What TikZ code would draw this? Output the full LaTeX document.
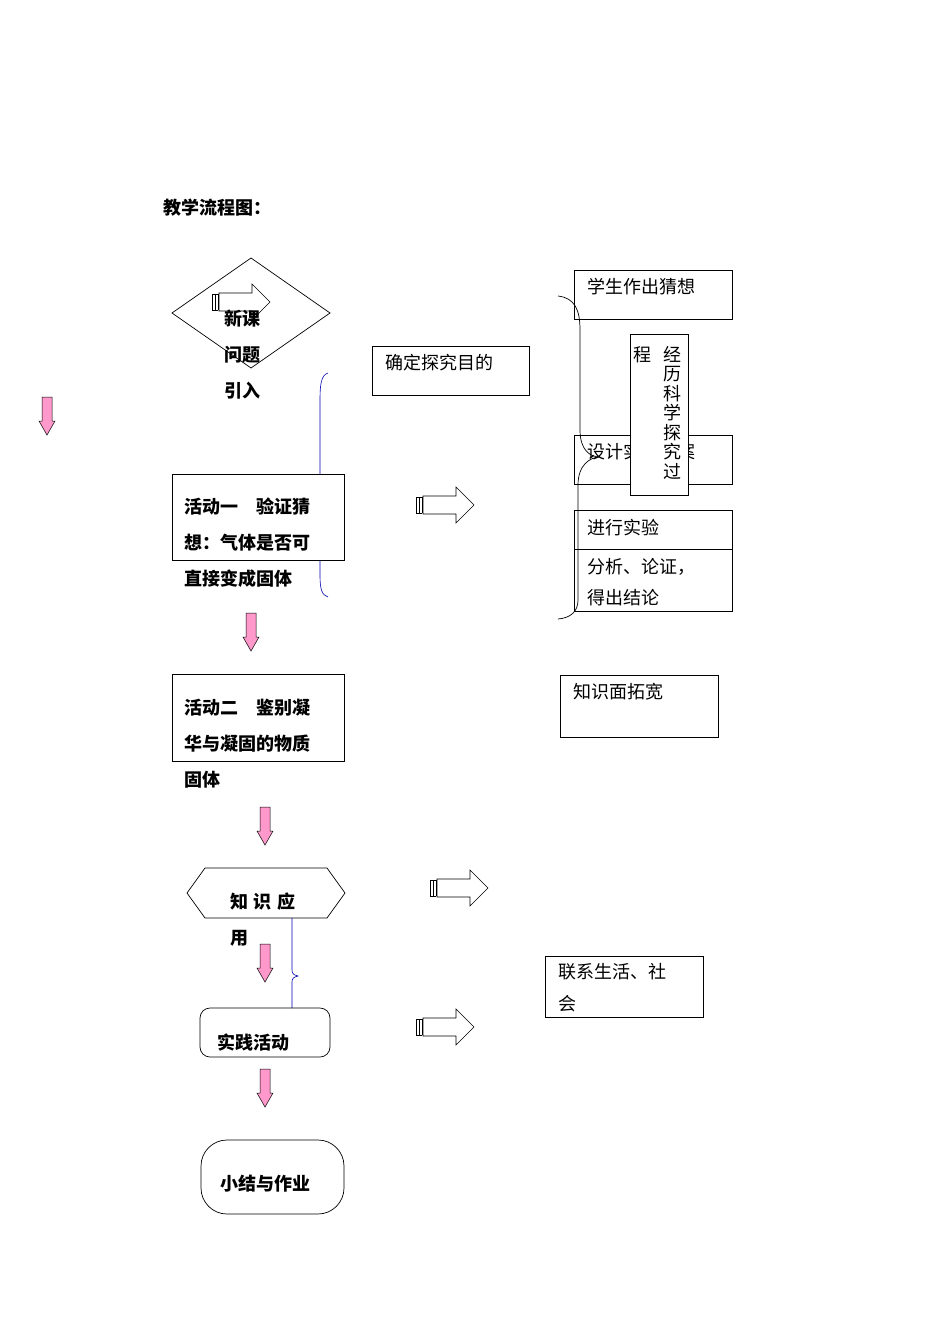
\documentclass[tikz,border=0pt]{standalone}
\usepackage{fontspec}
\setmainfont{Noto Sans CJK SC}
\begin{document}
\begin{tikzpicture}[x=1pt,y=-1pt,line width=0.7pt,
  txt/.style={anchor=base west,inner sep=0pt,font=\fontsize{18}{20}\selectfont},
  btxt/.style={txt,font=\fontsize{18}{20}\selectfont\bfseries},
  bx/.style={draw,fill=white}]
\definecolor{pk}{HTML}{FF99CC}
\useasboundingbox (0,0) rectangle (950,1344);
\newcommand\hollowarr[2]{%
  \draw[line width=0.6pt] (#1,#2-8) -- (#1,#2+8) (#1+3,#2-8) -- (#1+3,#2+8) (#1+6,#2-8) -- (#1+6,#2+8);
  \draw[line width=0.6pt] (#1,#2-8) -- (#1+6,#2-8) (#1,#2+8) -- (#1+6,#2+8);
  \draw[line width=0.6pt,fill=white] (#1+7,#2-9) -- (#1+40,#2-9) -- (#1+40,#2-18) -- (#1+58,#2) -- (#1+40,#2+18) -- (#1+40,#2+9) -- (#1+7,#2+9) -- cycle;}
\newcommand\pinkarr[2]{%
  \draw[line width=0.5pt,fill=pk] (#1-5,#2) -- (#1+5,#2) -- (#1+5,#2+24) -- (#1+8,#2+24) -- (#1,#2+38) -- (#1-8,#2+24) -- (#1-5,#2+24) -- cycle;}
\node[btxt] (title) at (163,214) {教学流程图：};
\draw (172,313) -- (251,258) -- (330,313) -- (251,368) -- cycle;
\hollowarr{212}{302}
\node[btxt] (t1) at (224,325) {新课};
\node[btxt] (t2) at (224,361) {问题};
\node[btxt] (t3) at (224,397) {引入};
\pinkarr{47}{397}
\draw[blue!70!black,line width=0.6pt] (328,373) .. controls (321,375) and (320,385) .. (320,400) -- (320,575) .. controls (320,590) and (322,595) .. (328,597);
\node[bx,minimum width=157pt,minimum height=49pt,anchor=north west,inner sep=0pt] (goal) at (372,346) {};
\node[txt] at (385,369) {确定探究目的};
\node[bx,minimum width=172pt,minimum height=86pt,anchor=north west,inner sep=0pt] (a1) at (172,474) {};
\node[btxt] at (184,513) {活动一\hspace{1em}验证猜};
\node[btxt] at (184,549) {想：气体是否可};
\node[btxt] at (184,585) {直接变成固体};
\hollowarr{416}{505}
\pinkarr{251}{613}
\draw (574,270) rectangle (732,319);
\node[txt] at (587,293) {学生作出猜想};
\draw (574,435) rectangle (732,484);
\node[txt] at (587,458) {设计实验方案};
\draw (574,510) rectangle (732,549) (574,549) rectangle (732,611);
\node[txt] at (587,534) {进行实验};
\node[txt] at (587,573) {分析、论证，};
\node[txt] at (587,604) {得出结论};
\node[bx,minimum width=58pt,minimum height=161pt,anchor=north west,inner sep=0pt] (vb) at (630,334) {};
\node[txt,anchor=north,align=center,font=\fontsize{18}{19.5}\selectfont] at (672,346) {经\\历\\科\\学\\探\\究\\过};
\node[txt,anchor=north] at (642,346) {程};
\draw (558,296) .. controls (575,298) and (580,310) .. (580,330) -- (580,430) .. controls (580,450) and (590,457) .. (600,457) .. controls (590,457) and (578,465) .. (578,485) -- (578,600) .. controls (578,612) and (570,618) .. (558,619);
\draw (560,675) rectangle (718,737);
\node[txt] at (573,698) {知识面拓宽};
\draw (172,674) rectangle (344,761);
\node[btxt] at (184,714) {活动二\hspace{1em}鉴别凝};
\node[btxt] at (184,750) {华与凝固的物质};
\node[btxt] at (184,786) {固体};
\pinkarr{265}{807}
\draw (187,893) -- (205,868) -- (327,868) -- (345,893) -- (327,918) -- (205,918) -- cycle;
\node[btxt] at (230,908) {知\hspace{0.3em}识\hspace{0.3em}应};
\node[btxt] at (230,944) {用};
\hollowarr{430}{888}
\pinkarr{265}{944}
\draw[blue!70!black,line width=0.6pt] (292,918) -- (292,970) .. controls (292,974) and (294,975) .. (298,976) .. controls (294,977) and (292,978) .. (292,982) -- (292,1008);
\draw[rounded corners=10pt] (200,1008) rectangle (330,1057);
\node[btxt] at (217,1049) {实践活动};
\hollowarr{416}{1027}
\draw (545,956) rectangle (703,1017);
\node[txt] at (558,978) {联系生活、社};
\node[txt] at (558,1010) {会};
\pinkarr{265}{1069}
\draw[rounded corners=26pt] (201,1140) rectangle (344,1214);
\node[btxt] at (220,1190) {小结与作业};
\end{tikzpicture}
\end{document}
